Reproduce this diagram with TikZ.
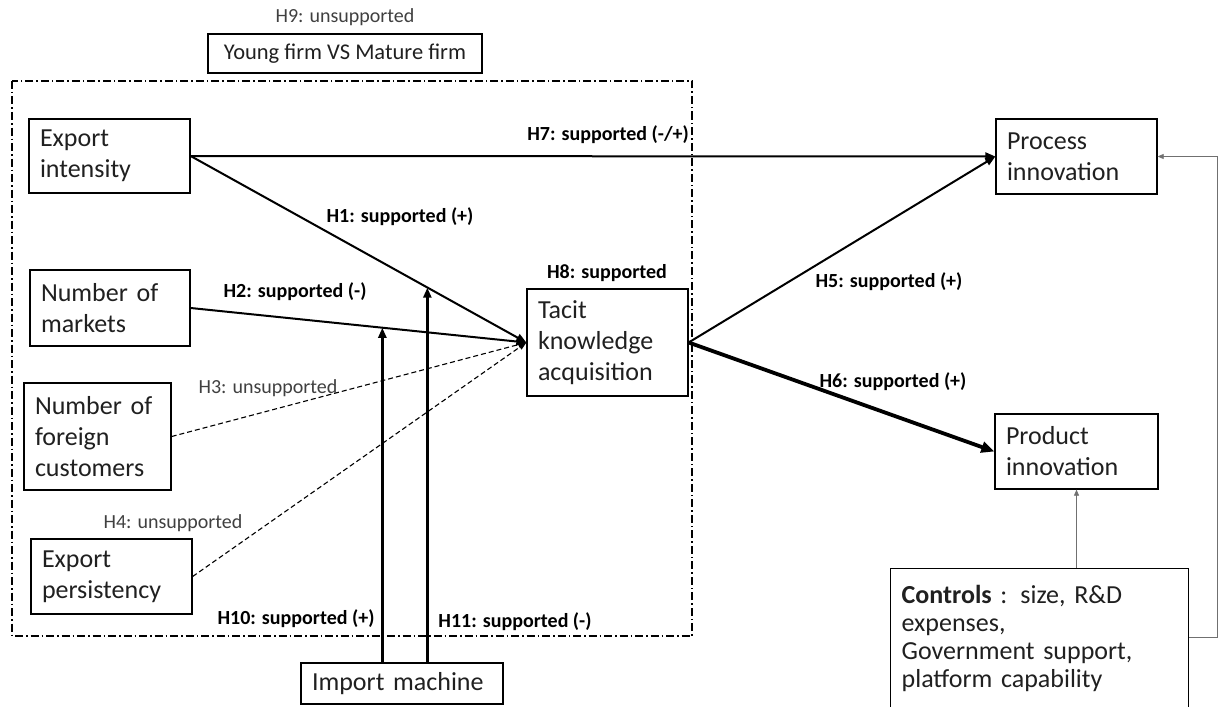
\documentclass[tikz,border=0pt]{standalone}
\usepackage{fontspec}
\setmainfont{Carlito}
\usetikzlibrary{arrows.meta,calc}
\definecolor{txt}{HTML}{202020}
\definecolor{lbl}{HTML}{404040}
\definecolor{thin}{HTML}{707070}
\newcommand{\boxfont}{\fontsize{26}{31}\selectfont}
\newcommand{\lblfont}{\fontsize{20}{22}\selectfont}
\tikzset{
  x=1pt,y=-1pt,
  box/.style={draw, line width=1.3pt, align=left, font=\boxfont, text=txt,
    inner xsep=11pt, inner ysep=0pt},
  blbl/.style={font=\lblfont\bfseries, text=black, inner sep=1pt},
  nlbl/.style={font=\lblfont, text=lbl, inner sep=1pt},
  arr/.style={line width=2pt, -{Triangle[length=10pt,width=8pt]}},
  darr/.style={line width=1.1pt, dash pattern=on 5pt off 3pt, -{Triangle[length=8pt,width=6pt]}},
  tarr/.style={line width=0.8pt, draw=thin, -{Triangle[length=6pt,width=5pt]}},
}
\begin{document}
\begin{tikzpicture}
\clip (0,0) rectangle (1222,706);
\fill[white] (0,0) rectangle (1222,706);

% frame
\draw[line width=1.3pt, dash pattern=on 8pt off 3pt on 1.5pt off 3pt] (12,81) rectangle (692,636);

% boxes
\node[box, text width=139pt, minimum height=74pt] (ei) at (109.5,156) {Export\\intensity};
\node[box, text width=138pt, minimum height=76pt] (nm) at (110,308) {Number of\\markets};
\node[box, text width=125pt, minimum height=107pt] (fc) at (97.5,436.5) {Number of\\foreign\\customers};
\node[box, text width=139pt, minimum height=75pt] (ep) at (111.5,576.5) {Export\\persistency};
\node[box, text width=139pt, minimum height=107pt] (tk) at (607.5,342.5) {Tacit\\knowledge\\acquisition};
\node[box, text width=139pt, minimum height=75pt] (pc) at (1076.5,156.5) {Process\\innovation};
\node[box, text width=141pt, minimum height=75pt] (pd) at (1076.5,451.5) {Product\\innovation};
\node[box, text width=180pt, minimum height=41pt] (im) at (402,683.5) {Import machine};
\node[box, align=center, font=\fontsize{22.5}{26}\selectfont, inner xsep=0pt,
      minimum width=274pt, minimum height=39pt] (yf) at (345,53.5) {Young firm VS Mature firm};
\node[box, anchor=north west, text width=276pt, inner ysep=17pt,
      font=\fontsize{26}{28}\selectfont, align=left] (ct) at (890,568)
  {\textbf{Controls} : size, R\&D\\expenses,\\Government support,\\platform capability\\\mbox{}};

% connectors
\draw[arr] (ei.east) -- (pc.west);
\draw[arr] (ei.east) -- (tk.west);
\draw[arr] (nm.east) -- (tk.west);
\draw[darr] (fc.east) -- (tk.west);
\draw[darr] (ep.east) -- (tk.west);
\draw[arr] (tk.east) -- (pc.west);
\draw[line width=3.8pt, -{Triangle[length=13pt,width=11pt]}] (tk.east) -- (pd.west);

\coordinate (h2pt) at ($(nm.east)!0.573!(tk.west)$);
\coordinate (h1pt) at ($(ei.east)!0.706!(tk.west)$);
\coordinate (im1) at ($(im.north west)+(82,0)$);
\coordinate (im2) at ($(im.north west)+(127,0)$);
\draw[arr, line width=2.4pt] (im1) -- (im1 |- h2pt);
\draw[arr, line width=2.4pt] (im2) -- (im2 |- h1pt);

\draw[tarr] (ct.north -| pd.south) -- (pd.south);
\coordinate (ctr) at ($(ct.north east)+(0,69)$);
\draw[tarr] (ctr) -- ++(28,0) |- (pc.east);

% labels
\node[nlbl] (l9) at (345,17) {H9: unsupported};
\node[blbl] (l7) at (608,135) {H7: supported (-/+)};
\node[blbl] (l1) at (400,217) {H1: supported (+)};
\node[blbl] (l2) at (295,292) {H2: supported (-)};
\node[nlbl] (l3) at (268,388) {H3: unsupported};
\node[nlbl] (l4) at (173,523) {H4: unsupported};
\node[blbl] (l8) at (607,273) {H8: supported};
\node[blbl] (l5) at (889,282) {H5: supported (+)};
\node[blbl] (l6) at (893,382) {H6: supported (+)};
\node[blbl] (l10) at (296,619) {H10: supported (+)};
\node[blbl] (l11) at (515,622) {H11: supported (-)};
\end{tikzpicture}
\end{document}
